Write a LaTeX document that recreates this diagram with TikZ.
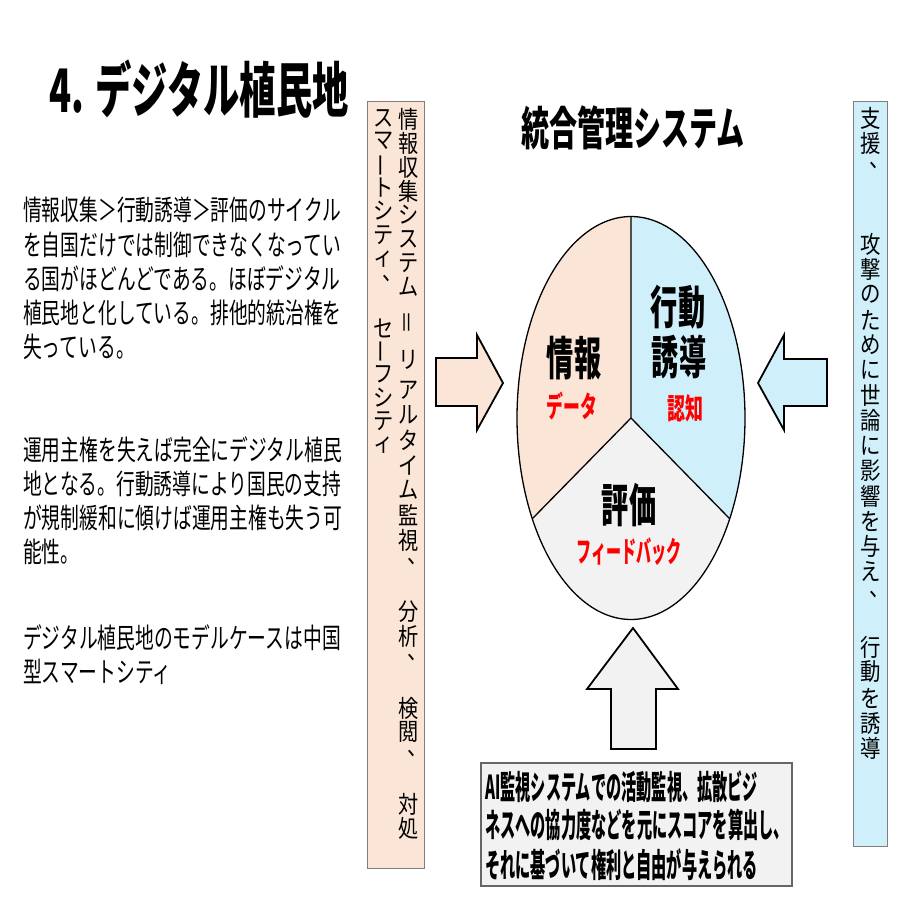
\documentclass[tikz,border=0pt]{standalone}
\usepackage{fontspec}
\usepackage{graphicx}
\setmainfont{Noto Sans CJK JP}
\definecolor{peach}{HTML}{FBE5D6}
\definecolor{lblue}{HTML}{CFEFFA}
\definecolor{lgray}{HTML}{F2F2F2}
\definecolor{boxedge}{HTML}{7F7F7F}
\newcommand\sx[2]{\scalebox{#1}[1]{#2}}
\newcommand\vcm{\makebox[1em][l]{\hspace*{0.45em}\raisebox{0.04em}[0pt][0pt]{、}}}
\newcommand\vsm[1]{\raisebox{0.08em}[0.8em][0.04em]{#1}}
\newcommand\vbar{\rotatebox[origin=c]{90}{ー}}
\newcommand\veq{\rotatebox[origin=c]{90}{＝}}
\tikzset{
  para/.style={anchor=west,inner sep=0pt,font=\fontsize{28}{28}\selectfont},
  vch/.style={inner sep=0pt,font=\fontsize{24}{24}\selectfont},
  big/.style={inner sep=0pt,font=\fontsize{46}{46}\selectfont\bfseries},
  redlab/.style={inner sep=0pt,text=red,font=\fontsize{29}{29}\selectfont\bfseries},
  blockarrow/.style={draw=black,line width=1.8pt,line join=miter},
  vbox/.style={draw=boxedge,line width=1pt},
  bline/.style={anchor=west,inner sep=0pt,font=\fontsize{33}{33}\selectfont\bfseries}
}
\begin{document}
\begin{tikzpicture}[x=1pt,y=-1pt]
\useasboundingbox (0,0) rectangle (900,900);
\fill[white] (0,0) rectangle (900,900);

% title
\node[inner sep=0pt,font=\fontsize{60}{60}\selectfont\bfseries] (title) at (199,89) {\sx{0.605}{4. デジタル植民地}};

% left paragraphs
\node[para] (p1) at (23,210) {\sx{0.67}{情報収集＞行動誘導＞評価のサイクル}};
\node[para] (p2) at (23,245) {\sx{0.67}{を自国だけでは制御できなくなってい}};
\node[para] (p3) at (23,279) {\sx{0.67}{る国がほどんどである。ほぼデジタル}};
\node[para] (p4) at (23,313) {\sx{0.67}{植民地と化している。排他的統治権を}};
\node[para] (p5) at (23,347) {\sx{0.67}{失っている。}};
\node[para] (q1) at (23,450) {\sx{0.67}{運用主権を失えば完全にデジタル植民}};
\node[para] (q2) at (23,484) {\sx{0.67}{地となる。行動誘導により国民の支持}};
\node[para] (q3) at (23,518) {\sx{0.67}{が規制緩和に傾けば運用主権も失う可}};
\node[para] (q4) at (23,552) {\sx{0.67}{能性。}};
\node[para] (r1) at (23,638) {\sx{0.67}{デジタル植民地のモデルケースは中国}};
\node[para] (r2) at (23,672) {\sx{0.67}{型スマートシティ}};

% left vertical box
\draw[vbox,fill=peach] (367,101) rectangle (424,868);
\foreach \ch/\yy [count=\i] in {情/119,報/143,収/167,集/191,シ/215,ス/239,テ/263,ム/287,\veq/322,リ/360,ア/390,ル/415,タ/440,イ/465,ム/490,監/515,視/540,\vcm/564,分/612,析/636,\vcm/660,検/708,閲/732,\vcm/756,対/804,処/828}
  \node[vch] (lr\i) at (409,\yy) {\sx{0.84}{\ch}};
\foreach \ch/\yy [count=\i] in {ス/118,マ/141,\vbar/165,ト/188,シ/211,テ/235,\vsm{ィ}/258,\vcm/281,セ/328,\vbar/351,フ/374,シ/398,テ/421,\vsm{ィ}/444}
  \node[vch] (ll\i) at (384,\yy) {\sx{0.84}{\ch}};

% right vertical box
\draw[vbox,fill=lblue] (853,101) rectangle (887,846);
\foreach \ch/\yy [count=\i] in {支/118,援/143,\vcm/168,攻/244,撃/269,の/294,た/320,め/345,に/370,世/395,論/420,に/446,影/471,響/496,を/521,与/546,え/572,\vcm/597,行/647,動/672,を/698,誘/723,導/748}
  \node[vch] (rr\i) at (871,\yy) {\sx{0.85}{\ch}};

% system title
\node[inner sep=0pt,font=\fontsize{46}{46}\selectfont\bfseries] (sys) at (633,128) {\sx{0.61}{統合管理システム}};

% ellipse sectors
\coordinate (C) at (631,418);
\fill[peach] (C) -- plot[domain=90:210,samples=80] ({631+114*cos(\x)},{418-201.5*sin(\x)}) -- cycle;
\fill[lblue] (C) -- plot[domain=90:-30,samples=80] ({631+114*cos(\x)},{418-201.5*sin(\x)}) -- cycle;
\fill[lgray] (C) -- plot[domain=210:330,samples=80] ({631+114*cos(\x)},{418-201.5*sin(\x)}) -- cycle;
\draw[line width=1.3pt] plot[domain=0:360,samples=200,smooth] ({631+114*cos(\x)},{418-201.5*sin(\x)}) -- cycle;
\coordinate (T) at (631,216.5);
\coordinate (BL) at ({631+114*cos(210)},{418-201.5*sin(210)});
\coordinate (BR) at ({631+114*cos(330)},{418-201.5*sin(330)});
\draw[line width=1.3pt] (T) -- (C) (BL) -- (C) -- (BR);

\node[big] (info) at (574,358) {\sx{0.59}{情報}};
\node[redlab] (data) at (572,406) {\sx{0.58}{データ}};
\node[big] (act1) at (678,307) {\sx{0.59}{行動}};
\node[big] (act2) at (679,357) {\sx{0.59}{誘導}};
\node[redlab] (cog) at (685,408) {\sx{0.62}{認知}};
\node[big] (eval) at (629,505) {\sx{0.59}{評価}};
\node[redlab] (fb) at (629,552) {\sx{0.52}{フィードバック}};

% block arrows
\draw[blockarrow,fill=peach] (436,358) -- (477,358) -- (477,335) -- (503,383) -- (477,430) -- (477,406) -- (436,406) -- cycle;
\draw[blockarrow,fill=lblue] (827,359) -- (784,359) -- (784,335) -- (758,383) -- (784,430) -- (784,406) -- (827,406) -- cycle;
\draw[blockarrow,fill=lgray] (611,749) -- (611,689) -- (587,689) -- (633,628) -- (678,689) -- (656,689) -- (656,749) -- cycle;

% bottom box
\draw[draw=black!60,line width=1.2pt,fill=lgray] (481,763) rectangle (792,886);
\node[bline] (b1) at (485,787) {\sx{0.46}{AI監視システムでの活動監視、拡散ビジ}};
\node[bline] (b2) at (485,825) {\sx{0.46}{ネスへの協力度などを元にスコアを算出し、}};
\node[bline] (b3) at (485,865) {\sx{0.46}{それに基づいて権利と自由が与えられる}};
\end{tikzpicture}
\end{document}
